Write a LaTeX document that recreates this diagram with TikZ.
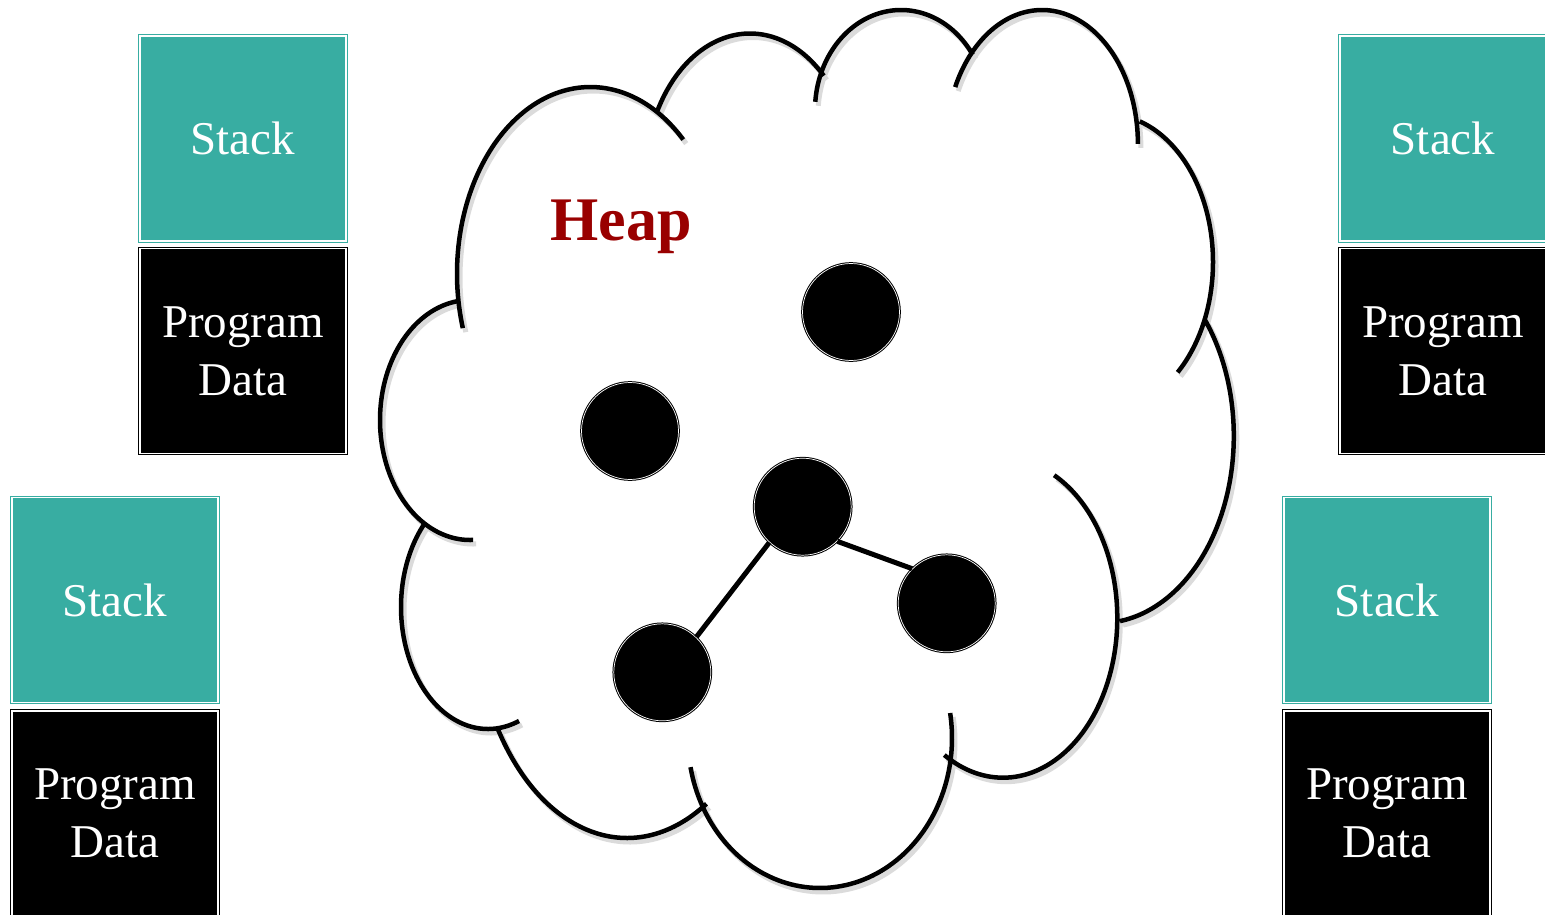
\documentclass[tikz,border=0pt]{standalone}
\usepackage{fontspec}
\setmainfont{Liberation Serif}
\definecolor{stackteal}{RGB}{56,173,162}
\definecolor{heapred}{RGB}{153,0,0}
% one lobe of the cloud: centre x, centre y, x radius, y radius, start, end (degrees)
\newcommand\cloudlobe[6]{plot[domain=#5:#6, samples=90, variable=\t] ({#1+#3*cos(\t)},{#2+#4*sin(\t)})}
\newcommand\heapcloudlobes{
  \cloudlobe{590.4}{273.6}{133.4}{186.6}{163}{314.1}
  \cloudlobe{750}{181}{105.3}{147.5}{208.2}{314.5}
  \cloudlobe{901}{110}{86}{100}{184.7}{326.5}
  \cloudlobe{1042}{143.9}{95.9}{133.9}{205.1}{360}
  \cloudlobe{1107.7}{262}{105.3}{147.6}{287.7}{408.4}
  \cloudlobe{1100}{436}{133.8}{187.2}{321.7}{441.4}
  \cloudlobe{1003}{618}{114.3}{159.7}{296.6}{480.9}
  \cloudlobe{820}{738}{132}{150}{-9.6}{168.8}
  \cloudlobe{627}{601.3}{153.4}{236.7}{58.8}{147.9}
  \cloudlobe{488}{607}{87}{122}{69.1}{223.6}
  \cloudlobe{470}{420}{90}{120}{88}{261.7}
}
\begin{document}
\begin{tikzpicture}[x=1pt,y=-1pt,
  stackbox/.style={rectangle, fill=stackteal, draw=stackteal, double=white,
    double distance=1.2pt, line width=1.1pt, minimum width=206pt,
    minimum height=205pt, inner sep=0pt, text=white,
    font=\fontsize{47}{58}\selectfont, align=center},
  databox/.style={stackbox, fill=black, draw=black},
  ball/.style={circle, fill=black, draw=black, double=white,
    double distance=0.7pt, line width=1pt, minimum size=97pt, inner sep=0pt},
  link/.style={line width=5pt},
  lobe/.style={line width=4.5pt},
  lobeshadow/.style={line width=5pt, draw=black!14}
]
\useasboundingbox (0,0) rectangle (1545,914);
\clip (0,0) rectangle (1545,914);

% cloud (heap)
\draw[lobeshadow, shift={(3,4)}] \heapcloudlobes;
\draw[lobe] \heapcloudlobes;

\node[anchor=base, text=heapred, font=\bfseries\fontsize{62}{70}\selectfont] (heap) at (621,240) {Heap};

% heap objects
\node[ball] (o1) at (851,312) {};
\node[ball] (o2) at (630,431) {};
\node[ball] (o3) at (802.7,506.7) {};
\node[ball] (o4) at (946.7,603.3) {};
\node[ball] (o5) at (662.3,672.3) {};
\draw[link] (o3.-45) -- (o4.135);
\draw[link] (o3.-133) -- (o5.46);

% threads
\node[stackbox] (s1) at (243,138.5) {Stack};
\node[databox]  (d1) at (243,351) {Program\\Data};
\node[stackbox] (s2) at (1443,138.5) {Stack};
\node[databox]  (d2) at (1443,351) {Program\\Data};
\node[stackbox] (s3) at (115,600) {Stack};
\node[databox]  (d3) at (115,813.5) {Program\\Data};
\node[stackbox] (s4) at (1387,600) {Stack};
\node[databox]  (d4) at (1387,813.5) {Program\\Data};
\end{tikzpicture}
\end{document}
